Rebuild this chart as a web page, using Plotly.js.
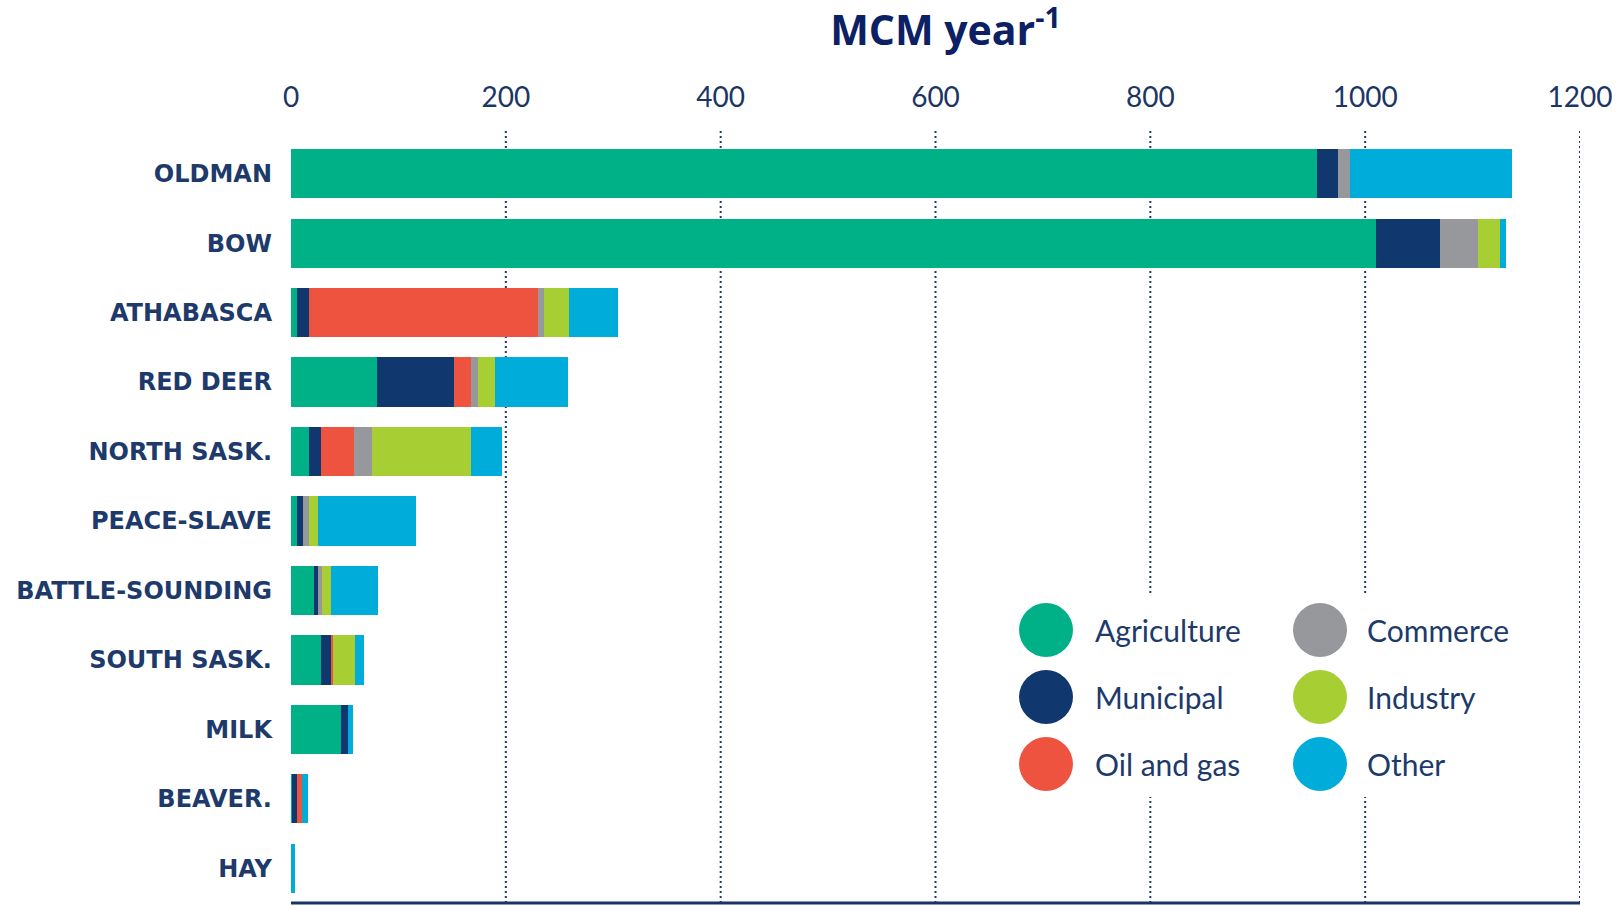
<!DOCTYPE html>
<html>
<head>
<meta charset="utf-8">
<script src="https://cdn.plot.ly/plotly-3.0.1.min.js"></script>
<style>html,body{margin:0;padding:0;background:#fff;}#chart{width:1623px;height:906px;}</style>
</head>
<body>
<div id="chart"></div>
<script>
// ---- data (MCM per year) ----
const basins = ['OLDMAN','BOW','ATHABASCA','RED DEER','NORTH SASK.','PEACE-SLAVE','BATTLE-SOUNDING','SOUTH SASK.','MILK','BEAVER.','HAY'];
const agriculture = [955, 1010, 6, 80, 17, 5.5, 21, 28, 46.7, 0.5, 0];
const municipal   = [20, 60, 11, 72, 11, 5.5, 4, 9.3, 6, 4.9, 0];
const oilAndGas   = [0, 0, 212.5, 16, 31, 0, 0, 1.6, 0, 5, 0];
const commerce    = [11, 35, 6, 6, 16, 5.5, 3.7, 0, 0, 0, 0];
const industry    = [0, 20.5, 23, 16, 93, 9, 8.7, 20.4, 0, 0, 0];
const other       = [151, 6, 46, 68, 28, 91, 44, 9, 4.7, 5, 3.5];

const seriesNames  = ['Agriculture','Municipal','Oil and gas','Commerce','Industry','Other'];
const seriesValues = [agriculture, municipal, oilAndGas, commerce, industry, other];
const seriesColors = ['#00b086','#10386f','#ee5340','#97989b','#a7cf33','#00acd9'];

const tickValues = [0, 200, 400, 600, 800, 1000, 1200];
const gridValues = [200, 400, 600, 800, 1000, 1200];
const titleText = 'MCM year<sup>-1</sup>';

// ---- geometry helpers ----
const M = {l: 291, r: 43, t: 139, b: 3};
const PW = 1623 - M.l - M.r, PH = 906 - M.t - M.b;
const px2x = px => (px - M.l) / PW;
const py2y = py => (906 - M.b - py) / PH;
const NAVY = '#1d3a6b';

const traces = seriesNames.map((name, i) => ({
  type: 'bar', orientation: 'h', name: name,
  x: seriesValues[i], y: basins,
  marker: {color: seriesColors[i], line: {width: 0}},
  showlegend: false,
  hovertemplate: '%{y}<br>' + name + ': %{x}<extra></extra>'
}));

const shapes = [];
gridValues.forEach(v => shapes.push({
  type: 'line', xref: 'x', yref: 'paper', x0: v, x1: v, y0: 0, y1: py2y(130),
  line: {color: '#1f3a68', width: 2, dash: '2px,3px'}, layer: 'below'
}));
// white backing behind the legend
shapes.push({type: 'rect', xref: 'paper', yref: 'paper',
  x0: px2x(1009), x1: px2x(1532), y0: py2y(797), y1: py2y(595),
  fillcolor: '#ffffff', line: {width: 0}, layer: 'below'});
// bottom axis line
shapes.push({type: 'line', xref: 'x', yref: 'paper', x0: 0, x1: 1200, y0: 0, y1: 0,
  line: {color: '#1a3466', width: 3}, layer: 'above'});

// custom legend: two columns, three rows, large circles
const legendOrder = [[0, 1, 2], [3, 4, 5]];
const colCircleX = [1046, 1320], colTextX = [1093, 1365];
const rowY = [630, 697, 764];
const annotations = [];
legendOrder.forEach((col, c) => col.forEach((si, r) => {
  shapes.push({type: 'circle', xref: 'paper', yref: 'paper',
    xsizemode: 'pixel', ysizemode: 'pixel',
    xanchor: px2x(colCircleX[c]), yanchor: py2y(rowY[r]),
    x0: -27, x1: 27, y0: -27, y1: 27,
    fillcolor: seriesColors[si], line: {width: 0}, layer: 'above'});
  annotations.push({xref: 'paper', yref: 'paper', x: px2x(colTextX[c]), y: py2y(rowY[r]),
    xanchor: 'left', yanchor: 'middle', showarrow: false, text: seriesNames[si],
    font: {family: 'Lato', size: 30, color: NAVY}});
}));

const layout = {
  width: 1623, height: 906,
  margin: {l: M.l, r: M.r, t: M.t, b: M.b, pad: 0, autoexpand: false},
  paper_bgcolor: '#ffffff', plot_bgcolor: '#ffffff',
  barmode: 'stack', bargap: 0.29,
  title: {text: titleText, xref: 'container', yref: 'container',
    x: 945.5 / 1623, xanchor: 'center', y: 1 - 31 / 906, yanchor: 'middle',
    font: {family: 'Open Sans', size: 41, weight: 700, color: '#0c2163'}},
  xaxis: {side: 'top', range: [0, 1200], tickvals: tickValues, ticktext: tickValues.map(String),
    showgrid: false, zeroline: false, showline: false, ticks: '', ticklen: 0,
    ticklabelstandoff: 25, fixedrange: true,
    tickfont: {family: 'Lato', size: 28, color: '#1c3664'}},
  yaxis: {type: 'category', autorange: 'reversed', showgrid: false, zeroline: false,
    showline: false, ticks: '', ticklen: 0, ticklabelstandoff: 18, fixedrange: true,
    tickfont: {family: 'DejaVu Sans', size: 24, weight: 700, color: NAVY}},
  shapes: shapes, annotations: annotations, showlegend: false
};

Plotly.newPlot('chart', traces, layout, {displayModeBar: false, responsive: false});
</script>
</body>
</html>
